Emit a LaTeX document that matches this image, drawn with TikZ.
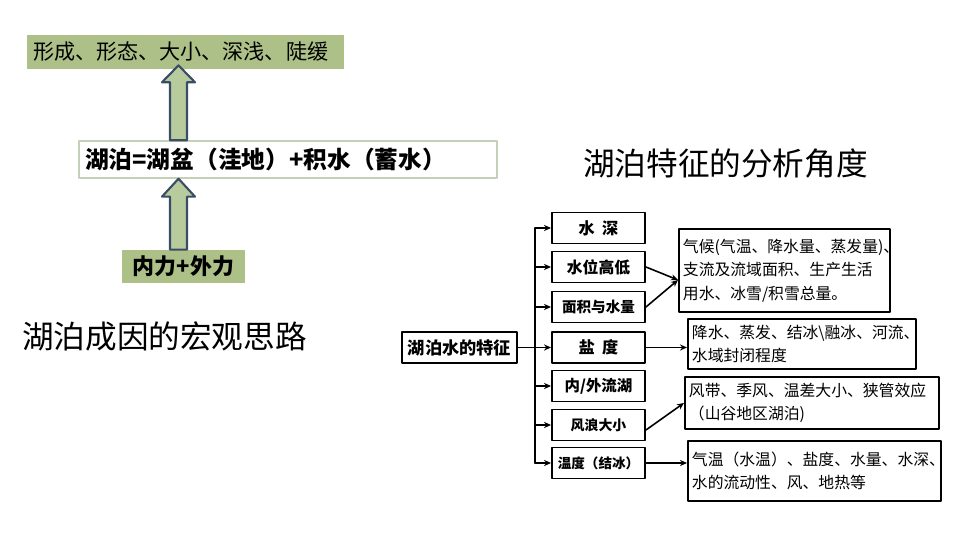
\documentclass[tikz,border=0pt]{standalone}
\usepackage{fontspec}
\setmainfont{Noto Sans CJK SC}
\usetikzlibrary{arrows.meta,calc}

\definecolor{olivebox}{RGB}{172,192,136}
\definecolor{arrowfill}{RGB}{184,203,156}
\definecolor{arrowline}{RGB}{58,76,102}
\definecolor{framegray}{RGB}{196,208,184}

\newdimen\px
\px=0.02cm

\newcommand{\fsz}[1]{\fontsize{#1}{#1}\selectfont}

\begin{document}
\begin{tikzpicture}[
  x=0.02cm,
  y=-0.02cm,
  line cap=round,
  line join=round,
  greenbox/.style={fill=olivebox, inner sep=0pt},
  blockarr/.style={fill=arrowfill, draw=arrowline, line width=1.2pt},
  kidbox/.style={draw, line width=1.1pt, minimum width=93\px,
    minimum height=31\px, inner sep=0pt, font=\fsz{9.2}\bfseries},
  notebox/.style={draw, line width=1.1pt, inner xsep=4\px, inner ysep=0pt,
    align=left, font=\fontsize{9}{13.4}\selectfont, anchor=north west},
  link/.style={line width=0.9pt, -{Stealth[length=4pt,width=3.5pt]}}
]
  \useasboundingbox (0,0) rectangle (960,540);

  % 左侧：湖泊成因
  \node[greenbox, minimum width=317\px, minimum height=34\px,
    text width=305\px, align=left, font=\fsz{12}] (form)
    at (185.5,52) {形成、形态、大小、深浅、陡缓};
  \node[draw=framegray, line width=0.8pt, minimum width=418\px,
    minimum height=37\px, inner xsep=6\px, text width=406\px, align=left,
    font=\fsz{13.5}\bfseries] (lake)
    at (288,159.5) {湖泊=湖盆（洼地）+积水（蓄水）};
  \node[greenbox, minimum width=123\px, minimum height=33\px,
    font=\fsz{12.5}\bfseries] (force)
    at (183.5,266.5) {内力+外力};

  \node[font=\fsz{18}] (why) at (164.5,336) {湖泊成因的宏观思路};

  % 空心箭头
  \coordinate (ax) at (178.5,0);
  \draw[blockarr] ($(ax |- lake.north)+(-8.5,0)$) -- ++(0,-58)
    -- ++(-8,0) -- ($(ax |- form.south)+(0,-4)$) -- ($(ax |- lake.north)+(16.5,-58)$)
    -- ++(-8,0) -- ++(0,58) -- cycle;
  \draw[blockarr] ($(ax |- force.north)+(-8.5,0)$) -- ++(0,-53)
    -- ++(-8,0) -- ($(ax |- lake.south)+(0,0)$) -- ($(ax |- force.north)+(16.5,-53)$)
    -- ++(-8,0) -- ++(0,53) -- cycle;

  % 右侧：湖泊水的特征
  \node[font=\fsz{18}] (title) at (725.5,163.5) {湖泊特征的分析角度};

  \node[draw, line width=1.1pt, minimum width=115\px, minimum height=31\px,
    inner sep=0pt, font=\fsz{9.8}\bfseries] (root)
    at (459.5,347.5) {湖泊水的特征};

  \node[kidbox] (deep) at (598.5,228) {水\ \ 深};
  \node[kidbox, font=\fsz{9}\bfseries] (level) at (598.5,267) {水位高低};
  \node[kidbox, font=\fsz{8.3}\bfseries] (area) at (598.5,307) {面积与水量};
  \node[kidbox] (salt) at (598.5,347.5) {盐\ \ 度};
  \node[kidbox, font=\fsz{8.8}\bfseries] (flow) at (598.5,386) {内/外流湖};
  \node[kidbox, font=\fsz{7.9}\bfseries] (wave) at (598.5,425) {风浪大小};
  \node[kidbox, font=\fsz{7.7}\bfseries] (temp) at (598.5,463) {温度（结冰）};

  \coordinate (trunk) at (535,0);
  \draw[line width=0.9pt] (trunk |- deep) -- (trunk |- temp);
  \draw[line width=0.9pt] (root.east) -- (trunk |- root.east);
  \foreach \k in {deep,level,area,salt,flow,wave,temp}
    \draw[link] (trunk |- \k.west) -- (\k.west);

  \node[notebox, minimum height=83\px, text width=203\px] (climate)
    at (678,228) {气候(气温、降水量、蒸发量)、\\支流及流域面积、生产生活\\用水、冰雪/积雪总量。};
  \node[notebox, minimum height=50\px, text width=220\px] (saltnote)
    at (687,318) {降水、蒸发、结冰\textbackslash 融冰、河流、\\水域封闭程度};
  \node[notebox, minimum height=52\px, text width=246\px] (windnote)
    at (684,376) {风带、季风、温差大小、狭管效应\\（山谷地区湖泊)};
  \node[notebox, minimum height=60\px, text width=245\px] (tempnote)
    at (687,440) {气温（水温）、盐度、水量、水深、\\水的流动性、风、地热等};

  \draw[link] (level.east) -- ([yshift=-9.5\px]climate.west);
  \draw[link] (area.east) -- ([yshift=-9.5\px]climate.west);
  \draw[link] (salt.east) -- (saltnote.west |- salt.east);
  \draw[link] ([yshift=-5\px]wave.east) -- (windnote.west);
  \draw[link] (temp.east) -- (tempnote.west |- temp.east);
\end{tikzpicture}
\end{document}
